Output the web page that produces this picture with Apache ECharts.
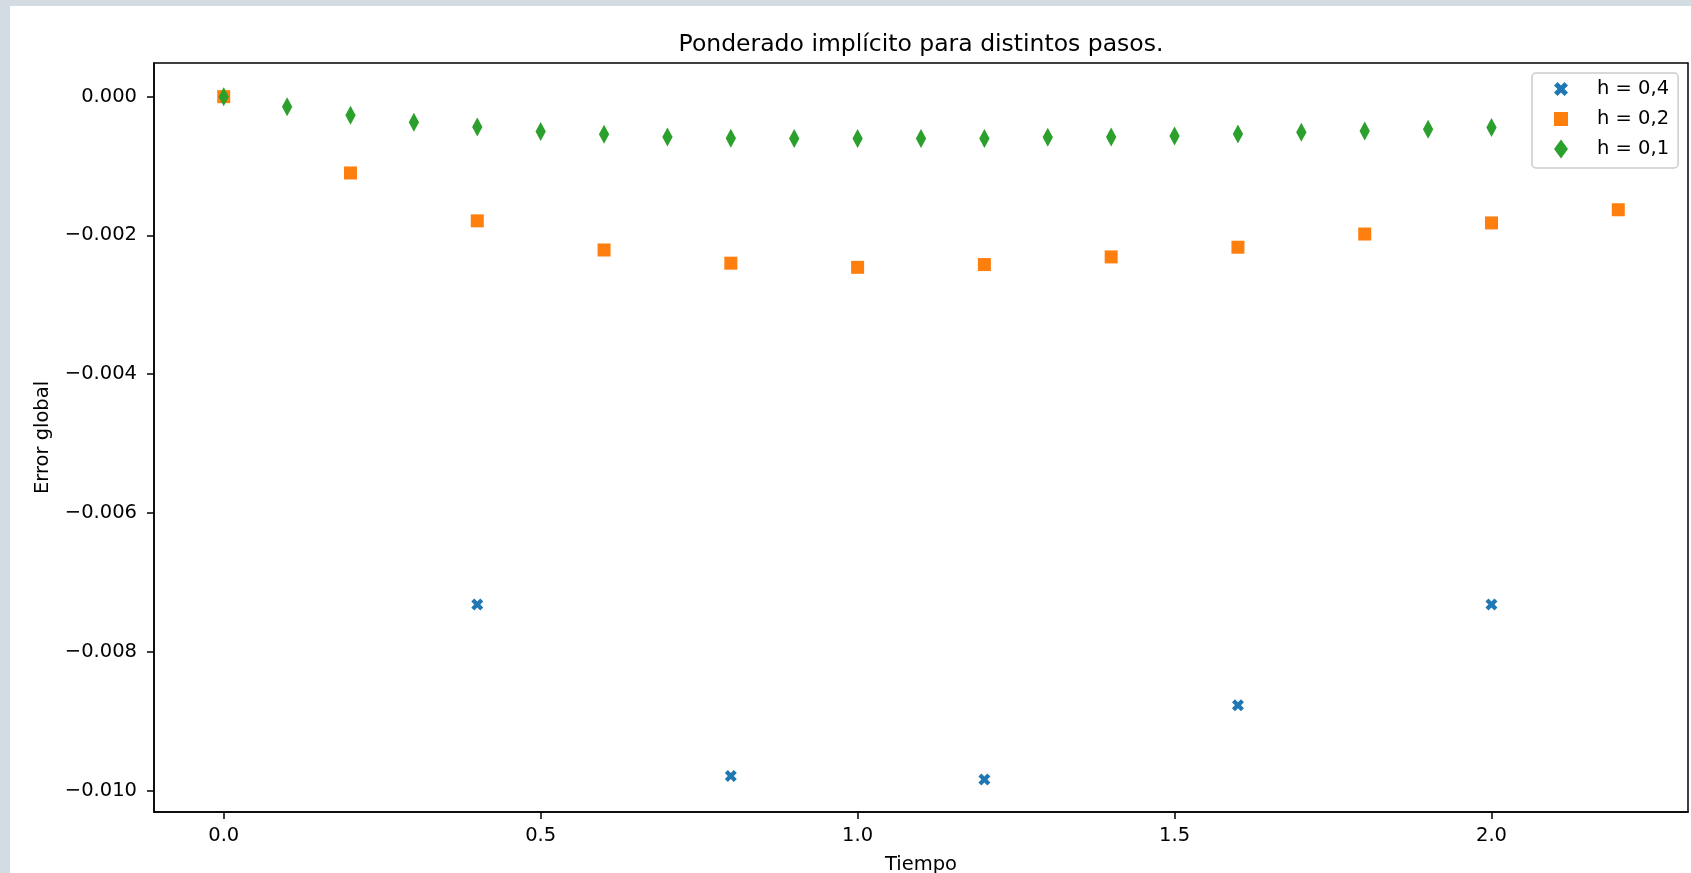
<!DOCTYPE html>
<html>
<head>
<meta charset="utf-8">
<script src="https://cdn.jsdelivr.net/npm/echarts@6/dist/echarts.min.js"></script>
<style>
  html, body { margin: 0; padding: 0; background: #d3dbe3; width: 1691px; height: 873px; overflow: hidden; }
  #chart { position: absolute; left: 10px; top: 6px; width: 1681px; height: 867px; background: #fff; }
</style>
</head>
<body>
<div id="chart"></div>
<script>
// datos
const tiempo04 = [0, 0.4, 0.8, 1.2, 1.6, 2.0];
const error04 = [0, -0.00732, -0.00979, -0.00984, -0.00877, -0.00732];

const tiempo02 = [0, 0.2, 0.4, 0.6, 0.8, 1.0, 1.2, 1.4, 1.6, 1.8, 2.0, 2.2];
const error02 = [0, -0.00110, -0.00179, -0.00221, -0.00240, -0.00246, -0.00242,
                 -0.00231, -0.00217, -0.00198, -0.00182, -0.00163];

const tiempo01 = [0, 0.1, 0.2, 0.3, 0.4, 0.5, 0.6, 0.7, 0.8, 0.9, 1.0,
                  1.1, 1.2, 1.3, 1.4, 1.5, 1.6, 1.7, 1.8, 1.9, 2.0];
const error01 = [0, -0.000144, -0.000268, -0.000369, -0.000436, -0.000504, -0.000542,
                 -0.000580, -0.000600, -0.000602, -0.000603, -0.000603, -0.000602,
                 -0.000585, -0.000583, -0.000566, -0.000537, -0.000513, -0.000494,
                 -0.000470, -0.000446];

const seriesNames = ['h = 0,4', 'h = 0,2', 'h = 0,1'];
const xTicks = [0, 0.5, 1.0, 1.5, 2.0];
const yTicks = [0, -0.002, -0.004, -0.006, -0.008, -0.010];

const colors = ['#1f77b4', '#ff7f0e', '#2ca02c'];
const font = 'DejaVu Sans';

// marcadores estilo matplotlib
const markerX = 'path://M-1,-2L0,-1L1,-2L2,-1L1,0L2,1L1,2L0,1L-1,2L-2,1L-1,0L-2,-1Z';
const markerSquare = 'path://M0,0L1,0L1,1L0,1Z';
const markerDiamond = 'path://M7,0L14,9.5L7,19L0,9.5Z';

function pares(xs, ys) {
  return xs.map((x, i) => [x, ys[i]]);
}

function yLabel(v) {
  return (v < 0 ? '\u2212' : '') + Math.abs(v).toFixed(3);
}

var myChart = echarts.init(document.getElementById('chart'));

var option = {
  animation: false,
  color: colors,
  textStyle: { fontFamily: font },
  title: {
    text: 'Ponderado implícito para distintos pasos.',
    left: 911,
    top: 27,
    padding: 0,
    textAlign: 'center',
    textStyle: { fontFamily: font, fontSize: 23.5, fontWeight: 'normal', color: '#000' }
  },
  legend: {
    orient: 'vertical',
    left: 1522,
    top: 67,
    padding: [6, 9, 9, 22],
    itemWidth: 14,
    itemHeight: 19,
    itemGap: 10,
    symbolKeepAspect: true,
    backgroundColor: 'rgba(255,255,255,0.8)',
    borderColor: '#cccccc',
    borderWidth: 1.5,
    borderRadius: 4,
    textStyle: { fontFamily: font, fontSize: 19.5, color: '#000', padding: [0, 0, 0, 24] },
    data: seriesNames
  },
  grid: {
    left: 144,
    right: 3,
    top: 57,
    bottom: 61,
    show: true,
    borderColor: '#000',
    borderWidth: 1.5,
    containLabel: false,
    outerBoundsMode: 'none'
  },
  xAxis: {
    type: 'value',
    min: -0.11,
    max: 2.31,
    name: 'Tiempo',
    nameLocation: 'middle',
    nameGap: 43,
    nameTextStyle: { fontFamily: font, fontSize: 19.5, color: '#000' },
    axisLine: { show: true, onZero: false, lineStyle: { color: '#000', width: 1.5 } },
    axisTick: { show: true, length: 7, inside: false, customValues: xTicks, lineStyle: { color: '#000', width: 1.5 } },
    axisLabel: {
      customValues: xTicks,
      margin: 14,
      fontFamily: font,
      fontSize: 19.5,
      color: '#000',
      formatter: v => v.toFixed(1)
    },
    splitLine: { show: false }
  },
  yAxis: {
    type: 'value',
    min: -0.01031,
    max: 0.000485,
    name: 'Error global',
    nameLocation: 'middle',
    nameGap: 101,
    nameTextStyle: { fontFamily: font, fontSize: 19.5, color: '#000' },
    axisLine: { show: true, onZero: false, lineStyle: { color: '#000', width: 1.5 } },
    axisTick: { show: true, length: 7, inside: false, customValues: yTicks, lineStyle: { color: '#000', width: 1.5 } },
    axisLabel: {
      customValues: yTicks,
      margin: 17,
      fontFamily: font,
      fontSize: 19.5,
      color: '#000',
      formatter: yLabel
    },
    splitLine: { show: false }
  },
  series: [
    {
      name: seriesNames[0],
      type: 'scatter',
      symbol: markerX,
      symbolSize: 12,
      symbolKeepAspect: true,
      itemStyle: { opacity: 1 },
      z: 2,
      data: pares(tiempo04, error04)
    },
    {
      name: seriesNames[1],
      type: 'scatter',
      symbol: markerSquare,
      symbolSize: 13,
      symbolKeepAspect: true,
      itemStyle: { opacity: 1 },
      z: 3,
      data: pares(tiempo02, error02)
    },
    {
      name: seriesNames[2],
      type: 'scatter',
      symbol: markerDiamond,
      symbolSize: [14, 19],
      symbolKeepAspect: true,
      itemStyle: { opacity: 1 },
      z: 4,
      data: pares(tiempo01, error01)
    }
  ]
};

myChart.setOption(option);
</script>
</body>
</html>
